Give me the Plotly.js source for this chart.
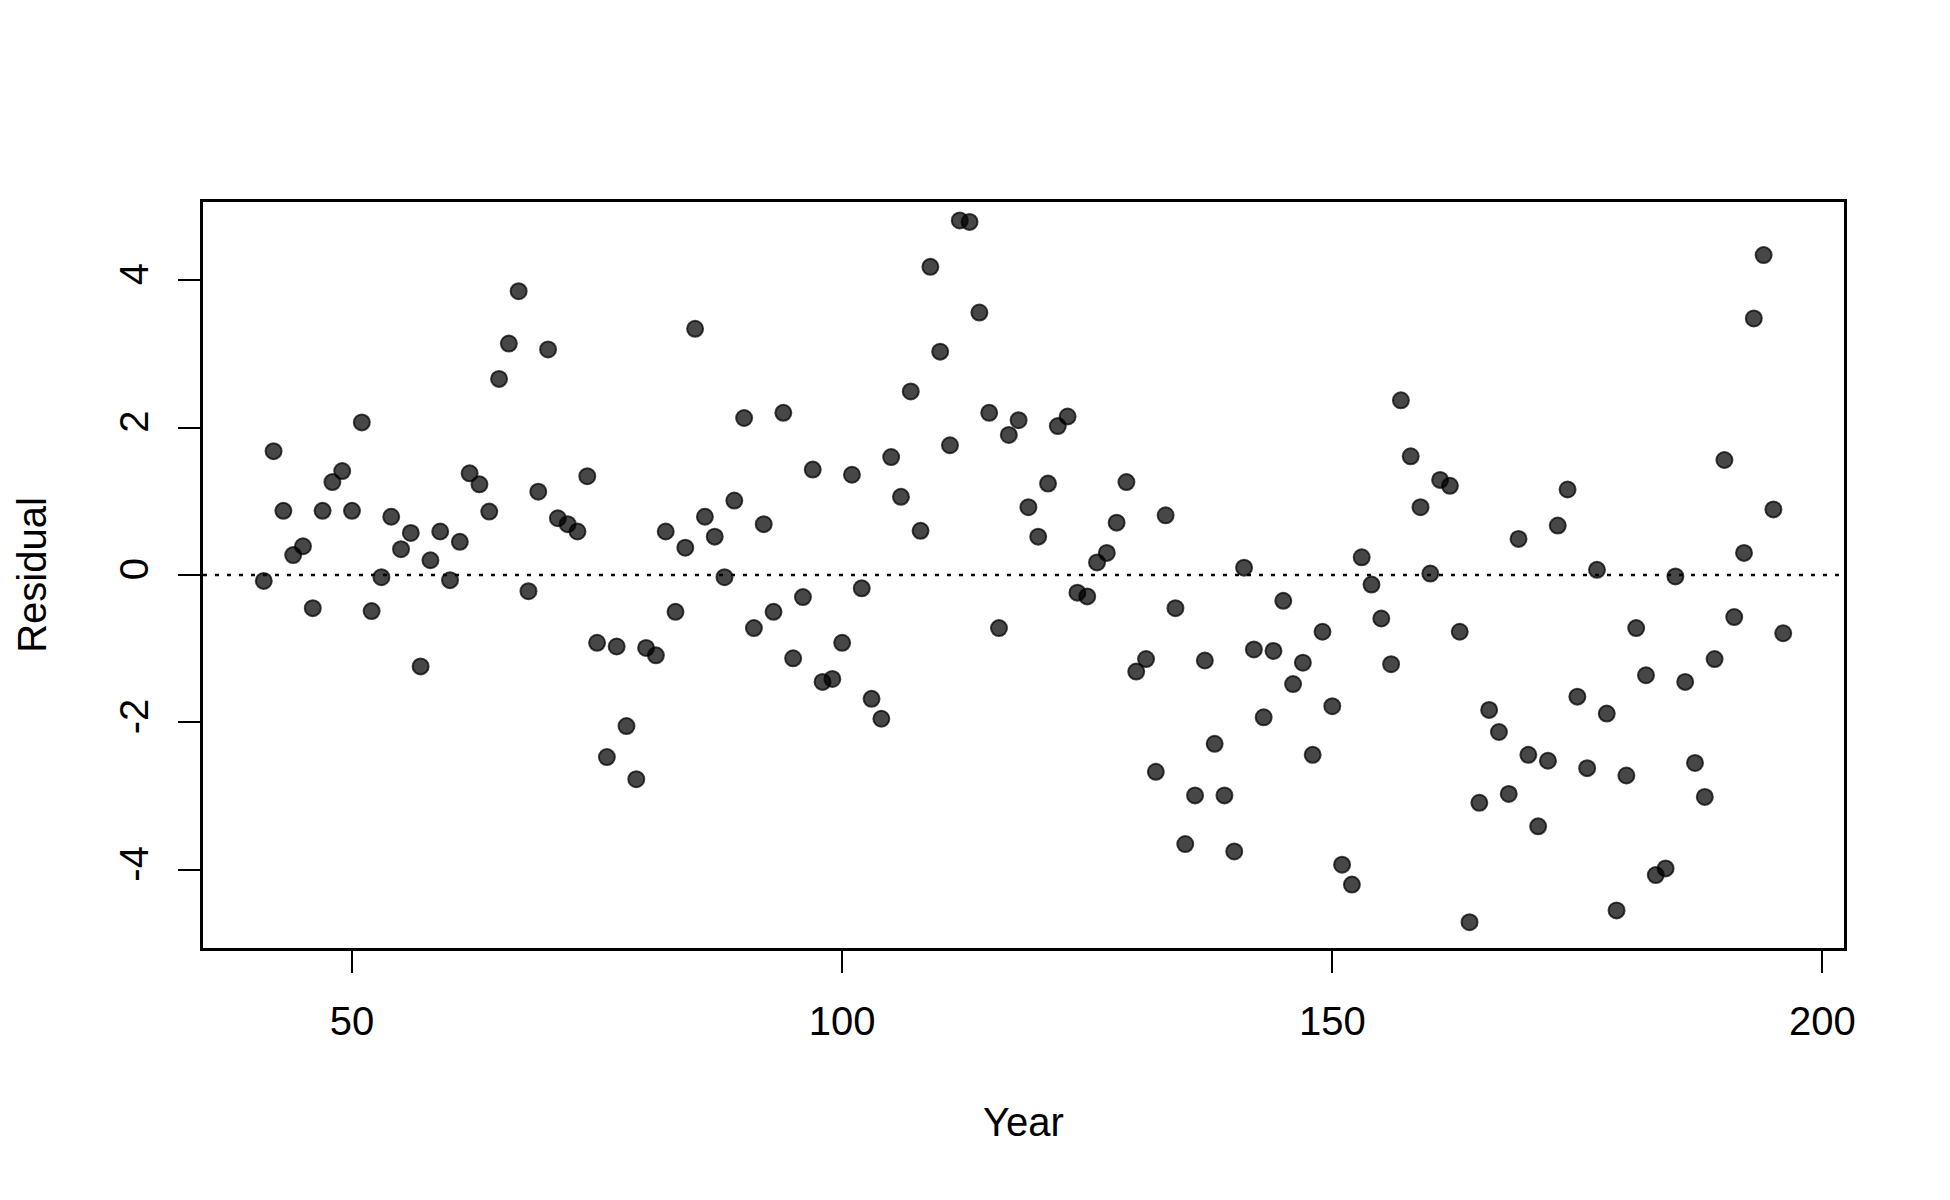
<!DOCTYPE html>
<html>
<head>
<meta charset="utf-8">
<script src="https://cdn.plot.ly/plotly-3.0.1.min.js"></script>
<style>
  html, body { margin: 0; padding: 0; background: #ffffff; }
  #chart { width: 1950px; height: 1200px; }
</style>
</head>
<body>
<div id="chart"></div>
<script>
// Years 41..196
const years = [
  41,42,43,44,45,46,47,48,49,50,
  51,52,53,54,55,56,57,58,59,60,
  61,62,63,64,65,66,67,68,69,70,
  71,72,73,74,75,76,77,78,79,80,
  81,82,83,84,85,86,87,88,89,90,
  91,92,93,94,95,96,97,98,99,100,
  101,102,103,104,105,106,107,108,109,110,
  111,112,113,114,115,116,117,118,119,120,
  121,122,123,124,125,126,127,128,129,130,
  131,132,133,134,135,136,137,138,139,140,
  141,142,143,144,145,146,147,148,149,150,
  151,152,153,154,155,156,157,158,159,160,
  161,162,163,164,165,166,167,168,169,170,
  171,172,173,174,175,176,177,178,179,180,
  181,182,183,184,185,186,187,188,189,190,
  191,192,193,194,195,196
];

const residuals = [
  -0.08, 1.68, 0.87, 0.27, 0.39, -0.45, 0.87, 1.26, 1.41, 0.87,
  2.07, -0.49, -0.03, 0.79, 0.35, 0.57, -1.24, 0.20, 0.59, -0.07,
  0.45, 1.38, 1.23, 0.86, 2.66, 3.14, 3.85, -0.22, 1.13, 3.06,
  0.77, 0.69, 0.59, 1.34, -0.92, -2.47, -0.97, -2.05, -2.77, -0.99,
  -1.09, 0.59, -0.50, 0.37, 3.34, 0.79, 0.52, -0.03, 1.01, 2.13,
  -0.72, 0.69, -0.50, 2.20, -1.13, -0.30, 1.43, -1.45, -1.41, -0.92,
  1.36, -0.18, -1.68, -1.95, 1.60, 1.06, 2.49, 0.60, 4.18, 3.03,
  1.76, 4.81, 4.79, 3.56, 2.20, -0.72, 1.90, 2.10, 0.92, 0.52,
  1.24, 2.02, 2.15, -0.24, -0.29, 0.17, 0.30, 0.71, 1.26, -1.31,
  -1.14, -2.67, 0.81, -0.45, -3.65, -2.99, -1.16, -2.29, -2.99, -3.75,
  0.10, -1.01, -1.93, -1.03, -0.35, -1.48, -1.19, -2.44, -0.77, -1.78,
  -3.93, -4.20, 0.24, -0.13, -0.59, -1.21, 2.37, 1.61, 0.92, 0.02,
  1.29, 1.21, -0.77, -4.71, -3.09, -1.83, -2.13, -2.97, 0.49, -2.44,
  -3.41, -2.52, 0.67, 1.16, -1.65, -2.62, 0.07, -1.88, -4.55, -2.72,
  -0.72, -1.36, -4.07, -3.98, -0.02, -1.45, -2.55, -3.01, -1.14, 1.56,
  -0.57, 0.30, 3.48, 4.34, 0.89, -0.79
];

const xTicks = [50, 100, 150, 200];
const yTicks = [-4, -2, 0, 2, 4];
const xLabel = "Year";
const yLabel = "Residual";

const fontFamily = "Liberation Sans, Arial, sans-serif";

const trace = {
  type: "scatter",
  mode: "markers",
  x: years,
  y: residuals,
  marker: {
    size: 16,
    color: "rgba(0,0,0,0.72)",
    line: { color: "rgba(0,0,0,0.72)", width: 2 }
  },
  hoverinfo: "x+y"
};

const layout = {
  width: 1950,
  height: 1200,
  paper_bgcolor: "#ffffff",
  plot_bgcolor: "#ffffff",
  showlegend: false,
  margin: { l: 203, r: 106, t: 202, b: 252, pad: 0 },
  font: { family: fontFamily, size: 40, color: "#000000" },
  xaxis: {
    range: [34.8, 202.2],
    tickmode: "array",
    tickvals: xTicks,
    ticktext: xTicks.map(String),
    ticks: "outside",
    ticklen: 22,
    tickwidth: 2,
    tickcolor: "#000000",
    showline: true,
    linecolor: "#000000",
    linewidth: 2.5,
    mirror: true,
    showgrid: false,
    zeroline: false,
    ticklabelstandoff: 14,
    tickfont: { family: fontFamily, size: 40, color: "#000000" },
    title: { text: xLabel, standoff: 67, font: { family: fontFamily, size: 40, color: "#000000" } },
    automargin: false
  },
  yaxis: {
    range: [-5.06, 5.06],
    tickmode: "array",
    tickvals: yTicks,
    ticktext: yTicks.map(String),
    tickangle: -90,
    ticks: "outside",
    ticklen: 22,
    tickwidth: 2,
    tickcolor: "#000000",
    showline: true,
    linecolor: "#000000",
    linewidth: 2.5,
    mirror: true,
    showgrid: false,
    zeroline: false,
    ticklabelstandoff: 14,
    tickfont: { family: fontFamily, size: 40, color: "#000000" },
    title: { text: yLabel, standoff: 54, font: { family: fontFamily, size: 40, color: "#000000" } },
    automargin: false
  },
  shapes: [
    {
      type: "line",
      xref: "paper",
      yref: "y",
      x0: 0,
      x1: 1,
      y0: 0,
      y1: 0,
      layer: "below",
      line: { color: "#000000", width: 2.5, dash: "4px,8px" }
    }
  ]
};

Plotly.newPlot("chart", [trace], layout, { displayModeBar: false, responsive: false });
</script>
</body>
</html>
